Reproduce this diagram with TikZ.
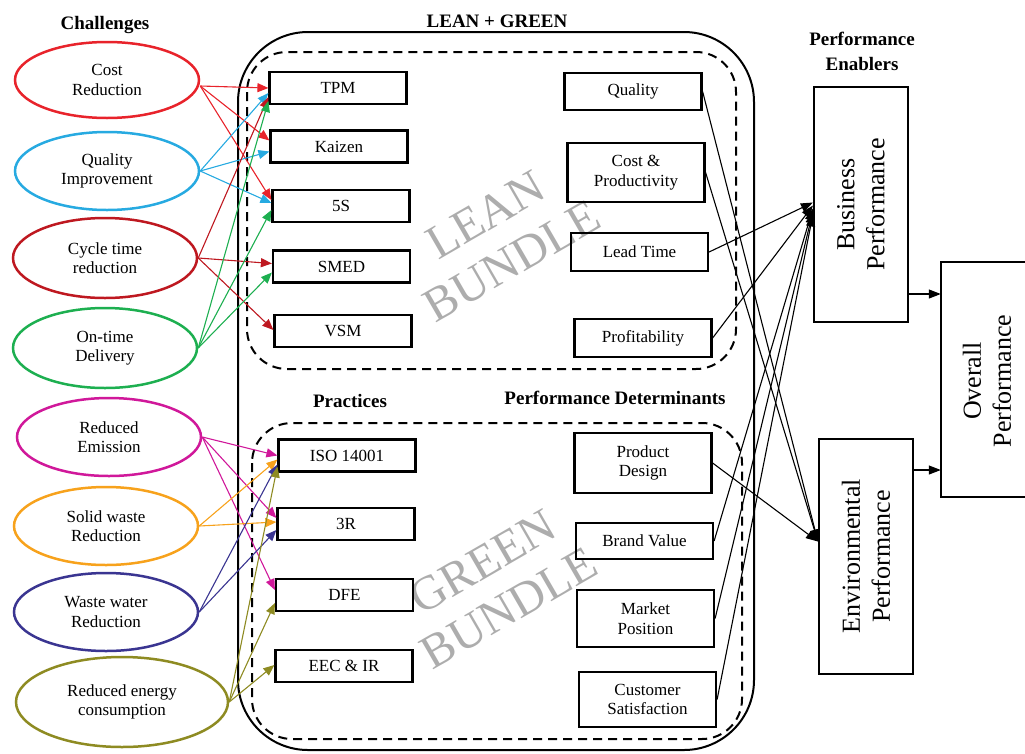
\documentclass[tikz,border=0pt]{standalone}
\usepackage{fontspec}
\setmainfont{Liberation Serif}
\usetikzlibrary{shapes.geometric,arrows.meta,calc}

\definecolor{cRed}{HTML}{E8232B}
\definecolor{cSky}{HTML}{27AAE1}
\definecolor{cMaroon}{HTML}{BE1820}
\definecolor{cGreen}{HTML}{1DAF50}
\definecolor{cMagenta}{HTML}{D0189A}
\definecolor{cOrange}{HTML}{F7A21C}
\definecolor{cIndigo}{HTML}{3A3591}
\definecolor{cOlive}{HTML}{8E8B22}
\definecolor{wmGray}{HTML}{ADADAD}

\begin{document}
\begin{tikzpicture}[x=1pt,y=-1pt,
  every node/.style={font=\fontsize{17}{19.5}\selectfont},
  chal/.style={ellipse, draw=#1, line width=2.5pt, minimum width=184pt,
    minimum height=78pt, inner sep=0pt, align=center},
  prac/.style={draw, line width=2.2pt, minimum width=137pt,
    minimum height=32pt, inner sep=0pt},
  det/.style={draw, line width=2.2pt, minimum width=137pt,
    inner sep=0pt, align=center},
  enab/.style={draw, line width=2.2pt, minimum width=94pt,
    minimum height=235pt, inner sep=0pt},
  vlabel/.style={rotate=90, align=center,
    font=\fontsize{26}{30}\selectfont},
  heading/.style={font=\bfseries\fontsize{19}{25}\selectfont, align=center},
  wm/.style={text=wmGray, align=center, rotate=30,
    font=\fontsize{48}{53}\selectfont},
  conn/.style={draw=#1, line width=1.1pt,
    -{Triangle[length=11pt,width=9pt,fill=#1]}},
  blk/.style={draw=black, line width=1.1pt,
    -{Triangle[length=12pt,width=9pt]}},
  frame/.style={line width=2pt},
  bundle/.style={line width=2pt, dash pattern=on 9pt off 6pt,
    rounded corners=40pt}
]
\useasboundingbox (0,0) rectangle (1025,753);

% ---- outer LEAN + GREEN frame and the two bundles
\draw[frame, rounded corners=70pt] (238,32) rectangle (754,750);
\draw[bundle] (247,52) rectangle (736,369);
\draw[bundle] (252,423) rectangle (742,739);

% ---- headings
\node[heading] (hch) at (105,25) {Challenges};
\node[heading] (hlg) at (497,21) {LEAN + GREEN};
\node[heading] (hen) at (862,51) {Performance\\Enablers};
\node[heading] (hpr) at (350,401) {Practices};
\node[heading] (hpd) at (615,398) {Performance Determinants};

% ---- bundle watermarks
\node[wm] (wlean) at (499,238) {LEAN\\BUNDLE};
\node[wm] (wgreen) at (496,585) {GREEN\\BUNDLE};

% ---- challenges
\node[chal=cRed, minimum height=76pt] (c1) at (107,80) {Cost\\Reduction};
\node[chal=cSky] (c2) at (107,171) {Quality\\Improvement};
\node[chal=cMaroon, minimum height=80pt] (c3) at (105,258) {Cycle time\\reduction};
\node[chal=cGreen, minimum height=80pt] (c4) at (105,348) {On-time\\Delivery};
\node[chal=cMagenta] (c5) at (109,437) {Reduced\\Emission};
\node[chal=cOrange] (c6) at (106,526) {Solid waste\\Reduction};
\node[chal=cIndigo] (c7) at (106,612) {Waste water\\Reduction};
\node[chal=cOlive, minimum width=212pt, minimum height=90pt] (c8) at (122,702) {Reduced energy\\consumption};

% ---- lean practices
\node[prac] (tpm) at (338,88) {TPM};
\node[prac] (kai) at (339,146.5) {Kaizen};
\node[prac] (fiv) at (341,206) {5S};
\node[prac] (smed) at (341.5,266.5) {SMED};
\node[prac] (vsm) at (343,331) {VSM};

% ---- green practices
\node[prac] (iso) at (347,455.5) {ISO 14001};
\node[prac] (trr) at (346,524) {3R};
\node[prac] (dfe) at (344.5,595) {DFE};
\node[prac] (eec) at (344,666) {EEC \& IR};

% ---- performance determinants
\node[det, minimum height=37pt] (dq) at (633,91.5) {Quality};
\node[det, minimum height=59pt] (dcp) at (636,172.5) {Cost \&\\Productivity};
\node[det, minimum height=38pt] (dlt) at (639.5,252) {Lead Time};
\node[det, minimum height=38pt] (dpf) at (643,338) {Profitability};
\node[det, minimum height=60pt] (dpd) at (643,463) {Product\\Design};
\node[det, minimum height=36pt] (dbv) at (644.5,541) {Brand Value};
\node[det, minimum height=57pt] (dmp) at (645.5,618.5) {Market\\Position};
\node[det, minimum height=55pt] (dcs) at (647.5,699.5) {Customer\\Satisfaction};

% ---- enablers and overall performance
\node[enab] (bus) at (861,204.5) {};
\node[vlabel] (busl) at (bus) {Business\\Performance};
\node[enab] (env) at (866,556.5) {};
\node[vlabel] (envl) at (env) {Environmental\\Performance};
\node[minimum width=84pt, minimum height=235pt, inner sep=0pt] (ov) at (983,379.5) {};
\node[vlabel] (ovl) at (987,381) {Overall\\Performance};
\draw[frame] (ov.north east) -- (ov.north west) -- (ov.south west) -- (ov.south east);

% ---- challenges to lean practices
\draw[conn=cRed] ($(c1.east)+(0,6)$) -- ($(tpm.west)+(0,0)$);
\draw[conn=cRed] ($(c1.east)+(0,6)$) -- ($(kai.west)+(0,-6)$);
\draw[conn=cRed] ($(c1.east)+(0,6)$) -- ($(fiv.west)+(0,-6)$);
\draw[conn=cSky] (c2.east) -- ($(tpm.west)+(0,5)$);
\draw[conn=cSky] (c2.east) -- ($(kai.west)+(0,5)$);
\draw[conn=cSky] (c2.east) -- ($(fiv.west)+(0,-3)$);
\draw[conn=cMaroon] (c3.east) -- ($(tpm.west)+(0,9)$);
\draw[conn=cMaroon] (c3.east) -- ($(smed.west)+(0,-3)$);
\draw[conn=cMaroon] (c3.east) -- ($(vsm.west)+(0,-1)$);
\draw[conn=cGreen] (c4.east) -- ($(tpm.west)+(0,13)$);
\draw[conn=cGreen] (c4.east) -- ($(fiv.west)+(0,4)$);
\draw[conn=cGreen] (c4.east) -- ($(smed.west)+(0,6)$);

% ---- challenges to green practices
\draw[conn=cMagenta] (c5.east) -- ($(iso.west)+(0,0)$);
\draw[conn=cMagenta] (c5.east) -- ($(trr.west)+(0,-6)$);
\draw[conn=cMagenta] (c5.east) -- ($(dfe.west)+(0,-5)$);
\draw[conn=cOrange] (c6.east) -- ($(iso.west)+(0,4)$);
\draw[conn=cOrange] (c6.east) -- ($(trr.west)+(0,-2)$);
\draw[conn=cIndigo] (c7.east) -- ($(iso.west)+(0,9)$);
\draw[conn=cIndigo] (c7.east) -- ($(trr.west)+(0,6)$);
\draw[conn=cOlive] (c8.east) -- ($(iso.west)+(0,11)$);
\draw[conn=cOlive] (c8.east) -- ($(dfe.west)+(0,8)$);
\draw[conn=cOlive] (c8.east) -- ($(eec.west)+(0,-1)$);

% ---- determinants to enablers
\draw[blk] (dq.east) -- ($(env.west)+(0,-15)$);
\draw[blk] (dcp.east) -- ($(env.west)+(0,-15)$);
\draw[blk] (dpd.east) -- ($(env.west)+(0,-15)$);
\draw[blk] (dlt.east) -- ($(bus.west)+(0,-2)$);
\draw[blk] (dpf.east) -- ($(bus.west)+(0,1)$);
\draw[blk] (dbv.east) -- ($(bus.west)+(0,4)$);
\draw[blk] (dmp.east) -- ($(bus.west)+(0,7)$);
\draw[blk] (dcs.east) -- ($(bus.west)+(0,10)$);

% ---- enablers to overall performance
\draw[blk] (bus.east |- 0,294) -- (ov.west |- 0,294);
\draw[blk] (env.east |- 0,470) -- (ov.west |- 0,470);
\end{tikzpicture}
\end{document}
